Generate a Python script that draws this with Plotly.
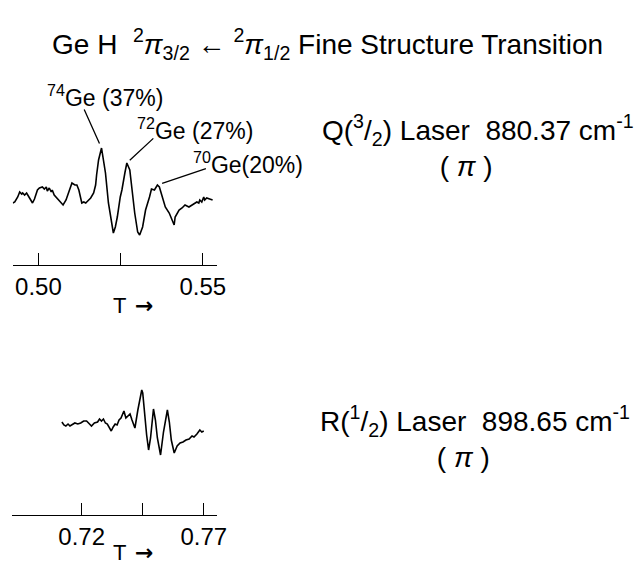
import plotly.graph_objects as go

# ---------------- data ----------------
# Q(3/2) laser 880.37 cm-1 scan (magnetic field T, signal arb. units)
T_Q = [0.4922, 0.4928, 0.4937, 0.4943, 0.4949, 0.4952, 0.4958, 0.4964, 0.4973, 0.4982,
       0.4988, 0.4997, 0.5003, 0.5012, 0.5018, 0.5024, 0.5027, 0.5033, 0.5039, 0.5042,
       0.5048, 0.5057, 0.5069, 0.5075, 0.5084, 0.5093, 0.5102, 0.5111, 0.5117, 0.5123,
       0.5129, 0.5132, 0.5138, 0.5144, 0.5147, 0.5159, 0.5168, 0.5174, 0.5177, 0.5183,
       0.5192, 0.5198, 0.5204, 0.5213, 0.5222, 0.5228, 0.5234, 0.5240, 0.5249, 0.5254,
       0.5263, 0.5269, 0.5278, 0.5284, 0.5293, 0.5302, 0.5308, 0.5317, 0.5326, 0.5338,
       0.5344, 0.5353, 0.5362, 0.5368, 0.5377, 0.5386, 0.5398, 0.5407, 0.5413, 0.5416,
       0.5428, 0.5437, 0.5446, 0.5458, 0.5467, 0.5476, 0.5482, 0.5488, 0.5491, 0.5497,
       0.5503, 0.5506, 0.5512, 0.5521, 0.5530]
S_Q = [2, 3, 8, 13, 11, 12, 10, 12, 7, 2,
       6, 15, 17, 18, 16, 18, 14, 17, 13, 15,
       10, 7, 3, 0, 5, 13, 22, 20, 20, 15,
       8, 2, 3, 2, 3, 7, 12, 20, 30, 45,
       57, 45, 32, 2, -15, -28, -22, -12, 8, 15,
       32, 42, 35, 15, -8, -27, -30, -22, -5, 8,
       16, 15, 20, 18, 7, -2, -8, -15, -20, -12,
       -5, -3, 0, -2, 0, 2, 3, 2, 5, 3,
       8, 5, 7, 6, 5]

# R(1/2) laser 898.65 cm-1 scan
T_R = [0.7119, 0.7127, 0.7135, 0.7144, 0.7152, 0.7160, 0.7172, 0.7184, 0.7196, 0.7208,
       0.7220, 0.7232, 0.7240, 0.7252, 0.7265, 0.7273, 0.7281, 0.7289, 0.7297, 0.7305,
       0.7313, 0.7321, 0.7329, 0.7337, 0.7345, 0.7353, 0.7361, 0.7369, 0.7373, 0.7381,
       0.7390, 0.7398, 0.7406, 0.7418, 0.7430, 0.7438, 0.7446, 0.7450, 0.7458, 0.7466,
       0.7474, 0.7482, 0.7494, 0.7502, 0.7510, 0.7523, 0.7535, 0.7551, 0.7559, 0.7567,
       0.7579, 0.7591, 0.7603, 0.7615, 0.7627, 0.7640, 0.7652, 0.7660, 0.7672, 0.7684,
       0.7692, 0.7700]
S_R = [3, 0, -1, 1, -1, 0, 2, 1, 2, 4,
       4, 1, -1, 2, 3, 6, 4, 6, 2, 1,
       -3, -6, -2, 1, 0, 5, 7, 11, 14, 7,
       9, 11, 5, -3, 15, 25, 35, 32, 10, -10,
       -25, -13, 16, 5, -13, -30, -7, 15, 3, -15,
       -28, -21, -18, -17, -15, -14, -11, -12, -9, -5,
       -7, -6]

Q_TICKS = [0.50, 0.525, 0.55]
Q_TICK_TEXT = ["0.50", "", "0.55"]
R_TICKS = [0.72, 0.745, 0.77]
R_TICK_TEXT = ["0.72", "", "0.77"]

ISO_LABELS = ["<sup>74</sup>Ge (37%)", "<sup>72</sup>Ge (27%)", "<sup>70</sup>Ge(20%)"]
ISO_PEAK_T = [0.5192, 0.5269, 0.5362]

TITLE = ("Ge H  <sup>2</sup><i>π</i><sub>3/2</sub> ← <sup>2</sup><i>π</i><sub>1/2</sub>"
         " Fine Structure Transition")
Q_LABEL = "Q(<sup>3</sup>/<sub>2</sub>) Laser  880.37 cm<sup>-1</sup>"
R_LABEL = "R(<sup>1</sup>/<sub>2</sub>) Laser  898.65 cm<sup>-1</sup>"
POL_LABEL = "( <i>π</i> )"
AXIS_NAME = "T"

# ---------------- layout helpers ----------------
W, H = 638, 567
FONT = "Liberation Sans, Arial, sans-serif"
NB = "\u00a0"


def px(x):
    return x / W


def py(y):
    return 1 - y / H


fig = go.Figure()
fig.add_trace(go.Scatter(x=T_Q, y=S_Q, mode="lines", xaxis="x", yaxis="y",
                         line=dict(color="black", width=1.6), hoverinfo="skip"))
fig.add_trace(go.Scatter(x=T_R, y=S_R, mode="lines", xaxis="x2", yaxis="y2",
                         line=dict(color="black", width=1.6), hoverinfo="skip"))

axis_common = dict(showline=True, linecolor="black", linewidth=1.3, ticks="inside",
                   ticklen=12, tickwidth=1.3, tickcolor="black", showgrid=False,
                   zeroline=False, tickfont=dict(family=FONT, size=24, color="black"),
                   fixedrange=True)

fig.update_layout(
    width=W, height=H, margin=dict(l=0, r=0, t=0, b=0),
    paper_bgcolor="white", plot_bgcolor="white", showlegend=False,
    font=dict(family=FONT, color="black"),
    xaxis=dict(domain=[px(13), px(220)], range=[0.4922, 0.5542], anchor="y",
               tickvals=Q_TICKS, ticktext=Q_TICK_TEXT, **axis_common),
    yaxis=dict(domain=[py(265), py(90)], range=[-60, 115], visible=False, fixedrange=True),
    xaxis2=dict(domain=[px(12), px(220)], range=[0.69137, 0.77524], anchor="y2",
                tickvals=R_TICKS, ticktext=R_TICK_TEXT, **axis_common),
    yaxis2=dict(domain=[py(515), py(380)], range=[-90, 45], visible=False, fixedrange=True),
)

ann = []
# title
ann.append(dict(text=TITLE, x=px(333), y=py(22), xref="paper", yref="paper",
                showarrow=False, font=dict(size=28, family=FONT)))
# isotope labels
iso_pos = [(46, 96), (137, 129), (194, 163)]
for lab, (lx, ly) in zip(ISO_LABELS, iso_pos):
    ann.append(dict(text=lab, x=px(lx), y=py(ly), xref="paper", yref="paper",
                    xanchor="left", yanchor="middle", showarrow=False,
                    font=dict(size=23, family=FONT)))
# leader lines pointing at the peaks
offsets = [(-18, -40, 5), (28, -26, 4), (50, -17, 5)]
for t, (dx, dy, so) in zip(ISO_PEAK_T, offsets):
    ann.append(dict(text="", x=t, y=S_Q[T_Q.index(t)], xref="x", yref="y",
                    showarrow=True, arrowhead=0, arrowwidth=1.3, arrowcolor="black",
                    ax=dx, ay=dy, standoff=so))
# right-side labels (laser line + polarisation on a second line)
for lab, xl, yc in [(Q_LABEL, 326, 146), (R_LABEL, 324, 437)]:
    ann.append(dict(text=lab + "<br>" + POL_LABEL + NB * 3, x=px(xl), y=py(yc),
                    xref="paper", yref="paper", xanchor="left", yanchor="middle",
                    align="center", showarrow=False, borderpad=0,
                    font=dict(size=28, family=FONT)))
# axis names with arrows
for yc, anchor in [(py(305), "middle"), (0.0, "bottom")]:
    ann.append(dict(text=AXIS_NAME, x=px(113), y=yc, xref="paper", yref="paper",
                    yanchor=anchor, showarrow=False, font=dict(size=22, family=FONT)))
    ann.append(dict(text="→", x=px(135), y=yc, xref="paper", yref="paper",
                    yanchor=anchor, showarrow=False,
                    font=dict(size=22, family="DejaVu Sans", weight="bold")))

fig.update_layout(annotations=ann)
fig.write_html("out.html")
